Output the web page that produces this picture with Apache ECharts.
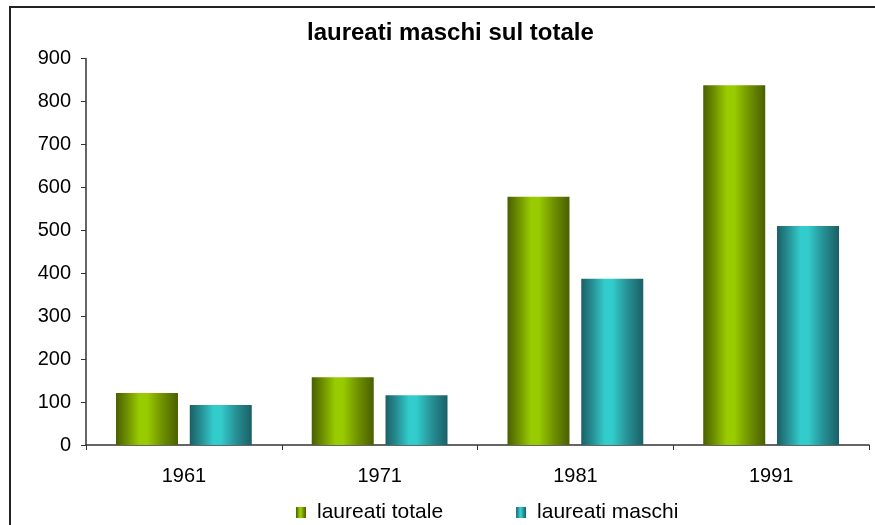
<!DOCTYPE html>
<html>
<head>
<meta charset="utf-8">
<script src="https://cdn.jsdelivr.net/npm/echarts@6/dist/echarts.min.js"></script>
<style>
  html, body { margin: 0; padding: 0; background: #fff; }
  #chart { width: 875px; height: 525px; }
</style>
</head>
<body>
<div id="chart"></div>
<script>
// dati
var anni = ['1961', '1971', '1981', '1991'];
var laureatiTotale = [121, 158, 578, 838];
var laureatiMaschi = [93, 116, 387, 510];
var yTicks = { min: 0, max: 900, step: 100 };

var chart = echarts.init(document.getElementById('chart'));

// effetto cilindro con sfumatura orizzontale
function cilindro(dark, mid, light) {
    return new echarts.graphic.LinearGradient(0, 0, 1, 0, [
        { offset: 0, color: dark },
        { offset: 0.18, color: mid },
        { offset: 0.38, color: light },
        { offset: 0.5, color: light },
        { offset: 0.75, color: mid },
        { offset: 1, color: dark }
    ]);
}

var font = '"Liberation Sans", Arial, sans-serif';

var option = {
    animation: false,
    backgroundColor: '#fff',
    title: {
        text: 'laureati maschi sul totale',
        left: 302,
        top: 16,
        textStyle: { fontFamily: font, fontSize: 24, fontWeight: 'bold', color: '#000' }
    },
    grid: {
        left: 86,
        right: 6,
        top: 58.5,
        bottom: 80
    },
    legend: {
        data: ['laureati totale', 'laureati maschi'],
        top: 497,
        left: 291,
        icon: 'rect',
        itemWidth: 10,
        itemHeight: 11,
        itemGap: 73,
        textStyle: { fontFamily: font, fontSize: 21, color: '#000', padding: [0, 0, 0, 6] }
    },
    graphic: [{
        type: 'rect',
        shape: { x: 10, y: 7, width: 880, height: 530 },
        style: { fill: 'none', stroke: '#222', lineWidth: 2 },
        silent: true
    }],
    xAxis: {
        type: 'category',
        data: anni,
        axisLine: { lineStyle: { color: '#333', width: 1.5 } },
        axisTick: { show: true, length: 5, lineStyle: { color: '#333' } },
        axisLabel: { fontFamily: font, fontSize: 20, color: '#000', margin: 21 }
    },
    yAxis: {
        type: 'value',
        min: yTicks.min,
        max: yTicks.max,
        interval: yTicks.step,
        splitLine: { show: false },
        axisLine: { show: true, lineStyle: { color: '#333', width: 1.5 } },
        axisTick: { show: true, length: 5, lineStyle: { color: '#333' } },
        axisLabel: { fontFamily: font, fontSize: 20, color: '#000', margin: 15 }
    },
    series: [
        {
            name: 'laureati totale',
            type: 'bar',
            data: laureatiTotale,
            barWidth: 62,
            barGap: '19%',
            itemStyle: { color: cilindro('#4a5f00', '#6f9000', '#99cc00') }
        },
        {
            name: 'laureati maschi',
            type: 'bar',
            data: laureatiMaschi,
            barWidth: 62,
            barGap: '19%',
            itemStyle: { color: cilindro('#1a6066', '#268f94', '#33cccc') }
        }
    ]
};

chart.setOption(option);
</script>
</body>
</html>
